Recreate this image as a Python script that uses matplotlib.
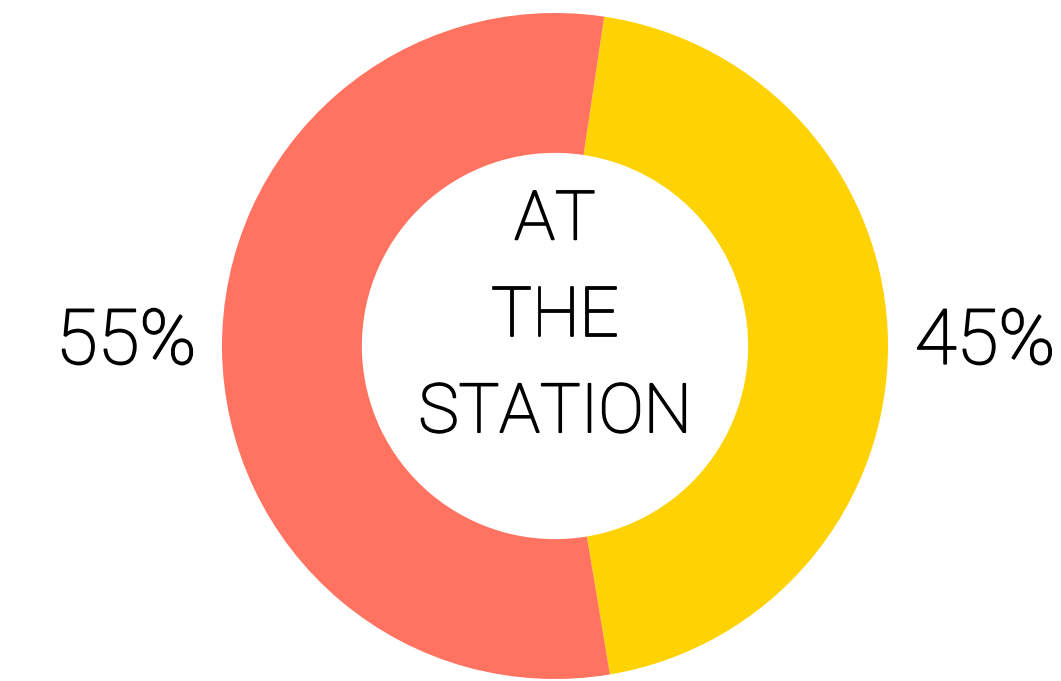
import matplotlib.pyplot as plt
import matplotlib.patheffects as pe

shares = [45, 55]
share_labels = ['45%', '55%']
colors = ['#FFD203', '#FF7360']
center_text = 'AT\nTHE\nSTATION'

W, H = 1061, 681
fig = plt.figure(figsize=(W / 100, H / 100), dpi=100)
ax = fig.add_axes([0, 0, 1, 1])

cx, cy, r = 555, H - 346, 333
ax.pie(shares, colors=colors, startangle=81.5, counterclock=False,
       center=(cx, cy), radius=r, frame=True,
       wedgeprops=dict(width=r * 0.42, linewidth=0))
ax.set_xlim(0, W)
ax.set_ylim(0, H)
ax.set_aspect('equal')
ax.axis('off')

# Roboto Light is a touch thin, thicken it slightly
thick = [pe.withStroke(linewidth=1.3, foreground='black')]
font = 'Roboto'
ax.text(126, H - 343, share_labels[1], ha='center', va='center',
        fontsize=55, family=font, fontweight='light', path_effects=thick)
ax.text(985, H - 343, share_labels[0], ha='center', va='center',
        fontsize=55, family=font, fontweight='light', path_effects=thick)
ax.text(cx, H - 317, center_text, ha='center', va='center',
        fontsize=49, family=font, fontweight='light', linespacing=1.6,
        path_effects=thick)

fig.savefig('out.png', dpi=100)
